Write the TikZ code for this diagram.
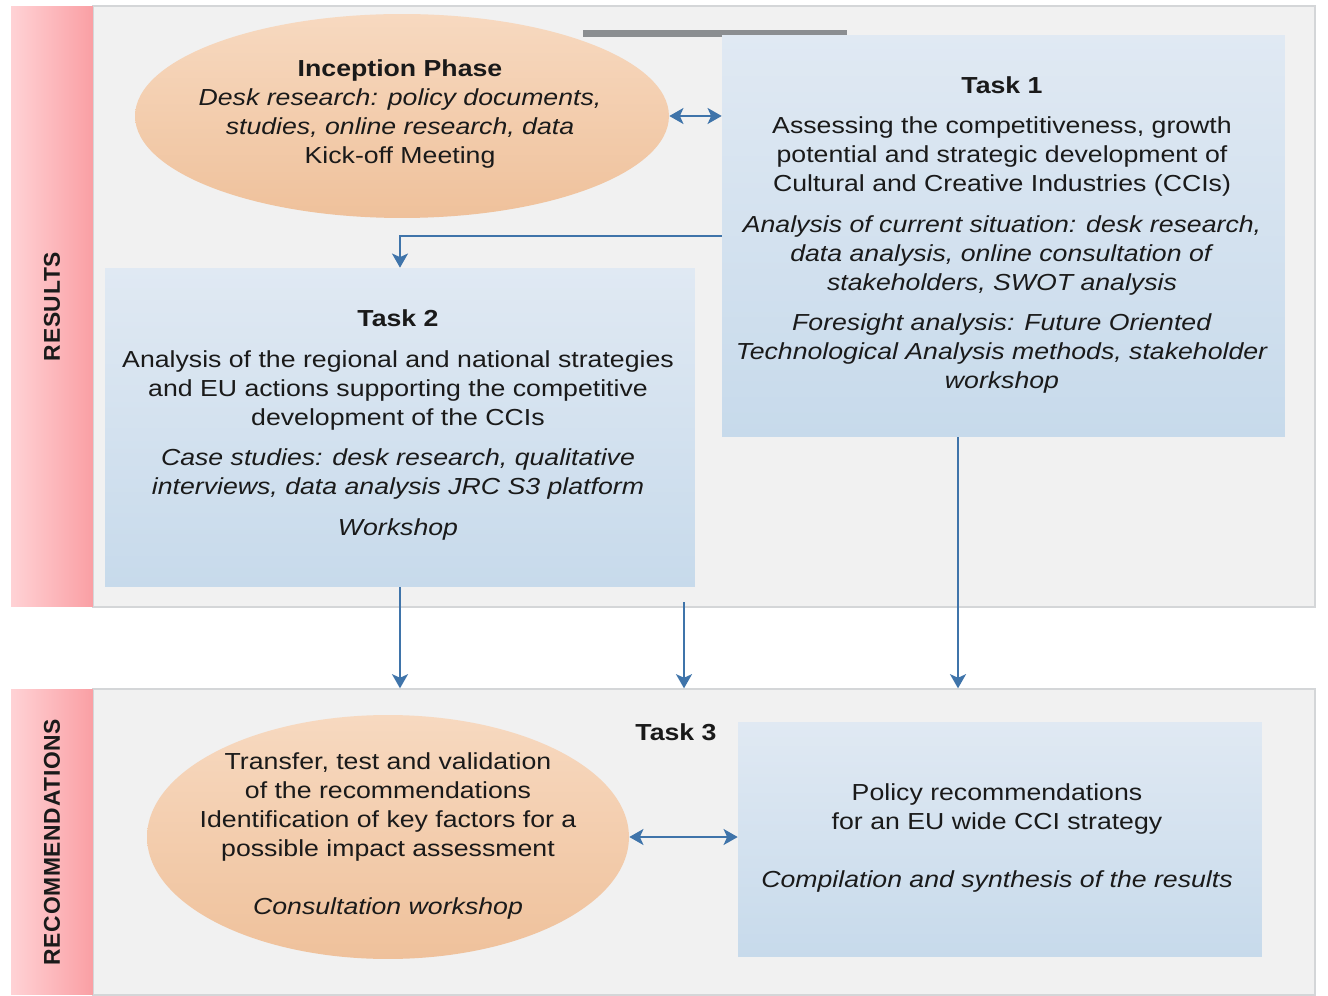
\documentclass[tikz,border=0pt]{standalone}
\usepackage{fontspec}
\setmainfont[FakeStretch=1.15]{Liberation Sans}
\newfontfamily\sidefont[LetterSpace=3]{Liberation Sans}
\usetikzlibrary{positioning,calc,shapes.geometric,arrows.meta}

\definecolor{panelgrey}{HTML}{F1F1F1}
\definecolor{panelline}{HTML}{D4D6D8}
\definecolor{stripleft}{HTML}{FFD2D5}
\definecolor{stripright}{HTML}{FA9FA4}
\definecolor{boxtop}{HTML}{E0E9F3}
\definecolor{boxbottom}{HTML}{C7DAEB}
\definecolor{ovaltop}{HTML}{F7D9C0}
\definecolor{ovalbottom}{HTML}{EFC19B}
\definecolor{flowblue}{HTML}{3F74AA}
\definecolor{bargrey}{HTML}{8B8E91}
\definecolor{textdark}{HTML}{1A1A1A}

\begin{document}
\begin{tikzpicture}[x=0.02cm, y=-0.02cm,
        panel/.style={rectangle, fill=panelgrey, draw=panelline, line width=0.8pt, minimum width=24.44cm, inner sep=0},
        strip/.style={rectangle, left color=stripleft, right color=stripright, minimum width=1.64cm, inner sep=0},
        taskbox/.style={rectangle, top color=boxtop, bottom color=boxbottom, inner sep=0},
        phase/.style={ellipse, top color=ovaltop, bottom color=ovalbottom, inner sep=0},
        txt/.style={align=center, font=\fontsize{13.2}{16.5}\selectfont, text=textdark},
        sidelabel/.style={rotate=90, font=\sidefont\bfseries\fontsize{13}{16}\selectfont, text=textdark},
        flow/.style={draw=flowblue, line width=1.5pt, -{Stealth[length=8pt,width=9pt,inset=2pt]}},
        twoway/.style={draw=flowblue, line width=1.5pt, {Stealth[length=8pt,width=9pt,inset=2pt]}-{Stealth[length=8pt,width=9pt,inset=2pt]}},
    ]

    \useasboundingbox (0,0) rectangle (1328,996);
    \fill[white] (0,0) rectangle (1328,996);

    % panels
    \node[panel, minimum height=12.02cm] (respanel) at (704,306.5) {};
    \node[strip, minimum height=12.02cm] (resstrip) at (52,306.5) {};
    \node[sidelabel] (reslabel) at (resstrip.center) {RESULTS};

    \node[panel, minimum height=6.12cm] (recpanel) at (704,842) {};
    \node[strip, minimum height=6.12cm] (recstrip) at (52,842) {};
    \node[sidelabel] (reclabel) at (recstrip.center) {RECOMMENDATIONS};

    \fill[bargrey] (583,30) rectangle (847,37);

    % results
    \node[phase, minimum width=10.68cm, minimum height=4.08cm] (inception) at (402,116) {};
    \node[txt] (inceptiontext) at (400,114) {\textbf{Inception Phase}\\
        \textit{Desk research: policy documents,}\\
        \textit{studies, online research, data}\\
        Kick-off Meeting};

    \node[taskbox, minimum width=11.26cm, minimum height=8.04cm] (taskone) at (1003.5,236) {};
    \node[txt] (taskonetext) at (1002,235) {\textbf{Task 1}\\[6.5pt]
        Assessing the competitiveness, growth\\
        potential and strategic development of\\
        Cultural and Creative Industries (CCIs)\\[6.5pt]
        \textit{Analysis of current situation: desk research,}\\
        \textit{data analysis, online consultation of}\\
        \textit{stakeholders, SWOT analysis}\\[6.5pt]
        \textit{Foresight analysis: Future Oriented}\\
        \textit{Technological Analysis methods, stakeholder}\\
        \textit{workshop}};

    \node[taskbox, minimum width=11.8cm, minimum height=6.38cm] (tasktwo) at (400,427.5) {};
    \node[txt] (tasktwotext) at (398,425) {\textbf{Task 2}\\[6.5pt]
        Analysis of the regional and national strategies\\
        and EU actions supporting the competitive\\
        development of the CCIs\\[6.5pt]
        \textit{Case studies: desk research, qualitative}\\
        \textit{interviews, data analysis JRC S3 platform}\\[6.5pt]
        \textit{Workshop}};

    % recommendations
    \node[txt] (taskthree) at (676,732) {\textbf{Task 3}};

    \node[phase, minimum width=9.64cm, minimum height=4.88cm] (transfer) at (388,837) {};
    \node[txt] (transfertext) at (388,836) {Transfer, test and validation\\
        of the recommendations\\
        Identification of key factors for a\\
        possible impact assessment\\[16.5pt]
        \textit{Consultation workshop}};

    \node[taskbox, minimum width=10.48cm, minimum height=4.7cm] (policy) at (1000,839.5) {};
    \node[txt] (policytext) at (997,838) {Policy recommendations\\
        for an EU wide CCI strategy\\[16.5pt]
        \textit{Compilation and synthesis of the results}};

    % arrows
    \draw[twoway] (inception.east) -- (inception.east -| taskone.west);
    \draw[flow] (taskone.west) -| (tasktwo.north);
    \draw[flow] (tasktwo.south) -- (tasktwo.south |- recpanel.north);
    \coordinate (midstart) at (684,602);
    \draw[flow] (midstart) -- (midstart |- recpanel.north);
    \draw[flow] ([xshift=-0.91cm]taskone.south) -- ([xshift=-0.91cm]taskone.south |- recpanel.north);
    \draw[twoway] (transfer.east) -- (transfer.east -| policy.west);

\end{tikzpicture}
\end{document}
